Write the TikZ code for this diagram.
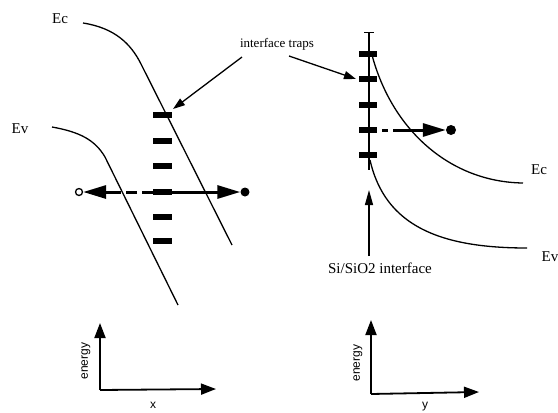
\documentclass[tikz,border=0pt]{standalone}
\usepackage{fontspec}
\setmainfont{Liberation Serif}
\setsansfont{Liberation Sans}
\usetikzlibrary{arrows.meta}
\begin{document}
\begin{tikzpicture}[x=1pt,y=-1pt,
  band/.style={line width=1.3pt},
  trap/.style={line width=5.5pt},
  lbl/.style={font=\fontsize{15}{15}\selectfont},
  bigarrow/.style={line width=3pt,-{Triangle[length=23pt,width=13pt]}},
  thinarrow/.style={line width=1.3pt,-{Triangle[length=12pt,width=8pt]}},
  axis/.style={line width=1.8pt,-{Triangle[length=15pt,width=11pt]}},
  axlbl/.style={font=\sffamily\fontsize{12}{12}\selectfont}]
\useasboundingbox (0,0) rectangle (558,413);
% ---------- left panel ----------
\node[lbl] (ecl) at (60,19) {Ec};
\node[lbl] (evl) at (20,129) {Ev};
\draw[band] (83,23) .. controls (115,28) and (131,44) .. (141,64) -- (232,245);
\draw[band] (52,127) .. controls (80,132) and (95,140) .. (105,157) -- (178,305);
\coordinate (tdl) at (153,192);
\coordinate (td) at (172,192);
% emission arrows
\node[circle,draw,line width=1.3pt,inner sep=0pt,minimum size=7pt] (hole) at (79,192) {};
\node[circle,fill,inner sep=0pt,minimum size=9pt] (elec) at (245,192) {};
\draw[line width=3pt,dash pattern=on 11pt off 5pt] (tdl) -- (106,192);
\draw[bigarrow] (110,192) -- (hole);
\draw[bigarrow] (td) -- (elec);
\foreach \yy/\n in {115/a,141/b,166/c,192/d,217/e,241/f}
  \draw[trap] (153,\yy) -- (172,\yy) coordinate (t\n);
% interface traps label
\node[font=\fontsize{13}{13}\selectfont] (itr) at (277,44) {interface traps};
\coordinate (ia) at (173,109);
\coordinate (ib) at (356,79);
\draw[thinarrow] (242,57) -- (ia);
\draw[thinarrow] (289,56) -- (ib);
% ---------- right panel ----------
\coordinate (itop) at (369,32);
\coordinate (ibot) at (369,170);
\draw[line width=1.3pt] (itop) -- (ibot);
\draw[line width=0.8pt] (364,32) -- (374,32);
\draw[band] (372,55) .. controls (392,130) and (450,182) .. (523,183);
\draw[band] (370,160) .. controls (385,226) and (440,248) .. (527,248);
\node[lbl] (ecr) at (539,170) {Ec};
\node[lbl] (evr) at (550,257) {Ev};
\node[circle,fill,inner sep=0pt,minimum size=10pt] (elr) at (451,130) {};
\draw[line width=3pt] (382,130) -- (388,130);
\draw[bigarrow] (393,130) -- (elr);
\foreach \yy/\n in {54/a,79/b,105/c,130/d,155/e}
  \draw[trap] (359,\yy) -- (377,\yy) coordinate (r\n);
\node[font=\fontsize{15}{15}\selectfont] (sil) at (380,268) {Si/SiO2 interface};
\draw[line width=1.3pt,-{Triangle[length=15pt,width=8pt]}] (sil.north -| ibot) ++(0,-3) -- (369,190);
% ---------- axes ----------
\coordinate (o1) at (100,390);
\draw[axis] (o1) -- (100,323);
\draw[axis] (o1) -- (216,389);
\node[axlbl,rotate=90] (en1) at (86,361) {energy};
\node[axlbl] (x1) at (153,405) {x};
\coordinate (o2) at (371,394);
\draw[axis] (o2) -- (371,320);
\draw[axis] (o2) -- (479,392);
\node[axlbl,rotate=90] (en2) at (358,363) {energy};
\node[axlbl] (y1) at (425,407) {y};
\end{tikzpicture}
\end{document}
